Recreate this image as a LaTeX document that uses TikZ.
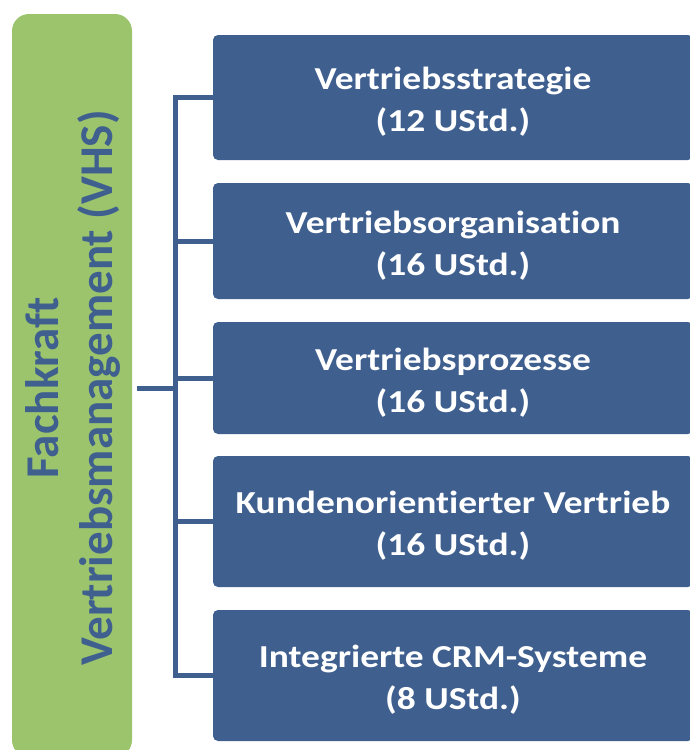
\documentclass[tikz,border=0pt]{standalone}
\usepackage{fontspec}
\setmainfont{Carlito}[Ligatures=NoCommon]
\newfontfamily\modfont{Carlito}[FakeStretch=1.17,Ligatures=NoCommon]
\newcommand{\modstrut}{\rule{0pt}{31pt}}
\definecolor{modblue}{HTML}{3F5F8F}
\definecolor{fkgreen}{HTML}{9BC46D}
\tikzset{
	modbox/.style={fill=modblue,rounded corners=5pt,minimum width=480pt,inner sep=0pt,text=white,align=center,font=\modfont\fontsize{32}{42}\selectfont\bfseries},
	fkbox/.style={fill=fkgreen,rounded corners=17pt,minimum width=120pt,minimum height=743pt,inner sep=0pt},
	fktext/.style={text=modblue,rotate=90,anchor=base,inner sep=0pt,font=\fontsize{47}{54}\selectfont\bfseries},
	conn/.style={draw=modblue,line width=5pt}
}
\begin{document}
\begin{tikzpicture}[x=1pt,y=-1pt]
	\useasboundingbox (0,0) rectangle (690,750);
	%green title bar
	\node[fkbox] (fk) at (72,385.5) {}; %bar
	\node[fktext] (fach) at (58,388) {Fachkraft}; %line 1
	\node[fktext] (vm) at (112,388) {Vertriebsmanagement (VHS)}; %line 2

	%modules
	\node[modbox,minimum height=125pt] (strat) at (453,97.5) {\modstrut Vertriebsstrategie\\(12 UStd.)};
	\node[modbox,minimum height=116pt] (org) at (453,241) {\modstrut Vertriebsorganisation\\(16 UStd.)};
	\node[modbox,minimum height=112pt] (proz) at (453,378) {\modstrut Vertriebsprozesse\\(16 UStd.)};
	\node[modbox,minimum height=131pt] (kund) at (453,521.5) {\modstrut Kundenorientierter Vertrieb\\(16 UStd.)};
	\node[modbox,minimum height=131pt] (crm) at (453,675.5) {\modstrut Integrierte CRM-Systeme\\(8 UStd.)};

	%connectors
	\coordinate (fkout) at (137,388); %free end at the bar
	\coordinate (hub) at (175,388); %spine
	\draw[conn] (fkout) -- (hub); %bar to spine
	\draw[conn] (strat.west) -- (strat.west -| hub) -- (crm.west -| hub) -- (crm.west); %spine
	\foreach \m in {org,proz,kund}
		\draw[conn] (\m.west -| hub) -- (\m.west); %ticks
\end{tikzpicture}
\end{document}
